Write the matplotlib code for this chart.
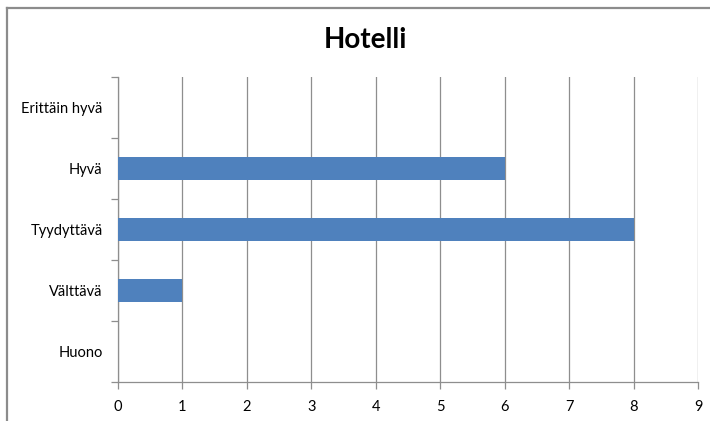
import matplotlib.pyplot as plt
from matplotlib.lines import Line2D

# Hotel ratings, listed from worst to best (bottom to top)
categories = ["Huono", "Välttävä", "Tyydyttävä", "Hyvä", "Erittäin hyvä"]
counts = [0, 1, 8, 6, 0]
x_ticks = list(range(0, 10))

plt.rcParams["font.family"] = ["Lato", "DejaVu Sans"]

fig = plt.figure(figsize=(7.10, 4.21), dpi=100)
ax = fig.add_axes([0.1662, 0.0926, 0.8169, 0.7245])

grid_col = "#8E8E8E"
ax.barh(range(len(categories)), counts, height=0.39, color="#4F81BD", zorder=3)

ax.set_xlim(0, 9)
ax.set_ylim(-0.5, len(categories) - 0.5)
ax.set_xticks(x_ticks)
ax.set_xticklabels([str(t) for t in x_ticks])
ax.set_yticks(range(len(categories)))
ax.set_yticklabels(categories)
ax.set_yticks([i - 0.5 for i in range(len(categories) + 1)], minor=True)

ax.grid(axis="x", color=grid_col, linewidth=0.9, zorder=0)
for side in ["top", "right"]:
    ax.spines[side].set_visible(False)
for side in ["left", "bottom"]:
    ax.spines[side].set_color(grid_col)
    ax.spines[side].set_linewidth(0.9)

ax.tick_params(axis="y", which="major", length=0, pad=11, labelsize=10.5, labelcolor="black")
ax.tick_params(axis="y", which="minor", length=5, color=grid_col, width=0.9)
ax.tick_params(axis="x", length=5, color=grid_col, width=0.9, pad=8, labelsize=10.5)

# title sits centred over the whole chart area, not just the plot
fig.text(0.514, 0.905, "Hotelli", fontsize=20, fontweight="bold", ha="center", va="center")

# chart frame, only the top and left edges fall inside the image
fig.add_artist(Line2D([0.0105, 1.0], [0.982, 0.982], transform=fig.transFigure, color="#8C8C8C", linewidth=1.6))
fig.add_artist(Line2D([0.0105, 0.0105], [0.0, 0.982], transform=fig.transFigure, color="#8C8C8C", linewidth=1.6))

fig.savefig("out.png", dpi=100)
